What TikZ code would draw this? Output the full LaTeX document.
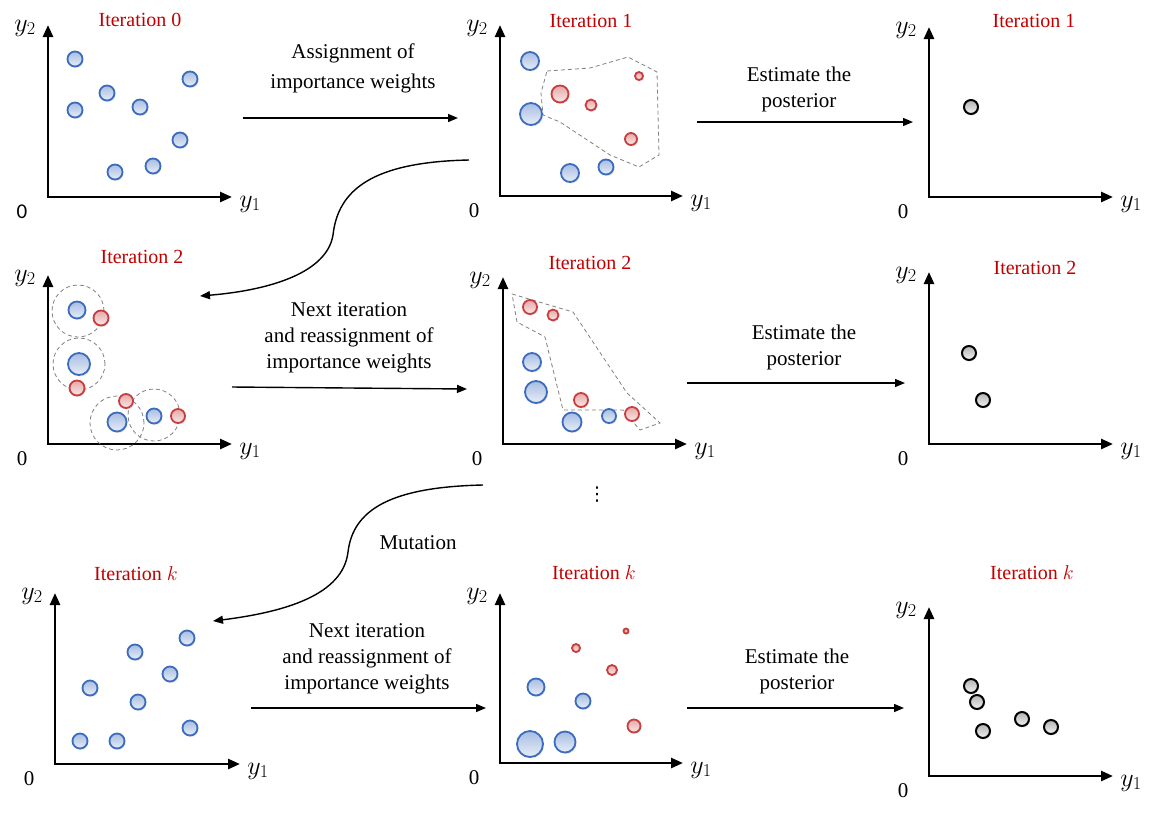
\RequirePackage{fix-cm}
\documentclass[tikz,border=0pt]{standalone}
\usepackage{fontspec}
\setmainfont{Liberation Serif}
\newfontfamily\calibfont{Carlito}
\newfontfamily\dejafont{DejaVu Sans}
\usetikzlibrary{arrows.meta, positioning, shadows}
\definecolor{itred}{RGB}{192,0,0}
\definecolor{ballblue}{RGB}{60,108,190}
\definecolor{ballred}{RGB}{200,62,62}

\begin{document}
\begin{tikzpicture}[x=1pt, y=-1pt,
    axis/.style={line width=2.6pt, {Triangle[length=12pt,width=10pt]}-{Triangle[length=12pt,width=10pt]}},
    conn/.style={-{Triangle[length=10pt,width=8pt]}, line width=1.4pt},
    txt/.style={align=center, font=\fontsize{21}{26}\selectfont},
    iter/.style={text=itred, font=\fontsize{20}{24}\selectfont},
    ax/.style={font=\fontsize{26}{28}\selectfont, inner sep=0pt},
    zero/.style={font=\fontsize{21}{24}\selectfont, inner sep=0pt},
    ball/.style={circle, inner sep=0pt, minimum size=#1pt, line width=1.8pt,
                 drop shadow={opacity=0.2, shadow xshift=1pt, shadow yshift=-1.5pt}},
    bball/.style={ball=#1, draw=ballblue, top color=ballblue!45, bottom color=ballblue!12},
    rball/.style={ball=#1, draw=ballred, top color=ballred!45, bottom color=ballred!12},
    gball/.style={ball=#1, draw=black, line width=2pt, top color=black!30, bottom color=black!5},
    hull/.style={draw=black!50, line width=0.8pt, dash pattern=on 4pt off 3pt}
]
    \useasboundingbox (0,0) rectangle (1162,823);

    % axes of the nine panels
    \foreach \ox/\oy/\ty/\xe [count=\i] in {48/197/25/232, 500/196/25/683, 929/197/27/1113,
        48/444/275/232, 503/444/277/687, 929/444/272/1113,
        55/764/593/240, 500/763/593/683, 929/776/607/1113} {
        \coordinate (o\i) at (\ox,\oy);
        \draw[axis] (\ox,\ty) -- (o\i) -- (\xe,\oy);
        \node[ax] (y2-\i) at (\ox-23,\ty+3) {$y_2$};
        \node[ax] (y1-\i) at (\xe+18,\oy+7) {$y_1$};
        \node[zero] (z-\i) at (\ox-26,\oy+15) {\ifnum\i=1 \calibfont\fi 0};
    }

    % panel titles
    \node[iter] (t1) at (140,20) {Iteration 0};
    \node[iter] (t2) at (591,21) {Iteration 1};
    \node[iter] (t3) at (1034,21) {Iteration 1};
    \node[iter] (t4) at (142,257) {Iteration 2};
    \node[iter] (t5) at (590,263) {Iteration 2};
    \node[iter] (t6) at (1035,268) {Iteration 2};
    \node[iter] (t7) at (136,574) {Iteration $k$};
    \node[iter] (t8) at (594,573) {Iteration $k$};
    \node[iter] (t9) at (1032,573) {Iteration $k$};

    % dashed outlines
    \draw[hull] (547,71) -- (590,68) -- (628,57) -- (657,72) -- (659,155) -- (639,167)
        -- (610,155) -- (560,122) -- (543,115) -- (541,93) -- cycle;
    \draw[hull] (512,294) -- (573,312) -- (627,393) -- (660,423) -- (640,430) -- (623,410)
        -- (563,410) -- (545,337) -- (517,322) -- cycle;
    \foreach \cx/\cy/\cr in {78/311/26, 79/364/26, 117/423/27, 154/415/26}
        \draw[hull] (\cx,\cy) circle[radius=\cr pt];

    % particles, iteration 0
    \foreach \x/\y [count=\i] in {75/59, 75/110, 107/93, 140/107, 190/79, 180/140, 115/172, 153/166}
        \node[bball=15] (p1-\i) at (\x,\y) {};
    % iteration 1
    \foreach \x/\y/\d [count=\i] in {530/61/18, 531/114/22, 570/173/18, 606/167/15}
        \node[bball=\d] (p2b-\i) at (\x,\y) {};
    \foreach \x/\y/\d [count=\i] in {560/94/17, 591/105/11, 639/76/8, 631/139/12}
        \node[rball=\d] (p2r-\i) at (\x,\y) {};
    \node[gball=14] (e1) at (971,107) {};
    % iteration 2
    \foreach \x/\y/\d [count=\i] in {77/310/17, 79/364/22, 117/422/19, 154/416/15}
        \node[bball=\d] (p4b-\i) at (\x,\y) {};
    \foreach \x/\y/\d [count=\i] in {101/318/15, 77/388/15, 126/401/14, 178/416/14}
        \node[rball=\d] (p4r-\i) at (\x,\y) {};
    \foreach \x/\y/\d [count=\i] in {532/362/18, 536/392/22, 572/422/19, 609/416/14}
        \node[bball=\d] (p5b-\i) at (\x,\y) {};
    \foreach \x/\y/\d [count=\i] in {530/307/14, 553/315/11, 581/400/14, 632/414/14}
        \node[rball=\d] (p5r-\i) at (\x,\y) {};
    \node[gball=14] (e2-1) at (969,353) {};
    \node[gball=14] (e2-2) at (983,400) {};
    % iteration k
    \foreach \x/\y [count=\i] in {187/638, 135/652, 170/674, 90/688, 138/702, 190/728, 80/741, 117/741}
        \node[bball=15] (p7-\i) at (\x,\y) {};
    \foreach \x/\y/\d [count=\i] in {530/744/26, 565/742/21, 536/687/17, 583/701/15}
        \node[bball=\d] (p8b-\i) at (\x,\y) {};
    \foreach \x/\y/\d [count=\i] in {576/648/8, 626/631/5, 612/670/10, 634/726/13}
        \node[rball=\d] (p8r-\i) at (\x,\y) {};
    \foreach \x/\y [count=\i] in {971/686, 977/702, 983/731, 1022/719, 1051/727}
        \node[gball=14] (ek-\i) at (\x,\y) {};

    % step labels
    \node[txt] (assign) at (353,68) {Assignment of\\[4pt]importance weights};
    \node[txt] (est1) at (799,89) {Estimate the\\posterior};
    \node[txt] (next1) at (349,338) {Next iteration\\and reassignment of\\importance weights};
    \node[txt] (est2) at (804,347) {Estimate the\\posterior};
    \node[font=\fontsize{19}{20}\dejafont] (dots) at (597,495) {⋮};
    \node[txt] (mut) at (418,543) {Mutation};
    \node[txt] (next2) at (367,659) {Next iteration\\and reassignment of\\importance weights};
    \node[txt] (est3) at (797,671) {Estimate the\\posterior};

    % arrow ends
    \coordinate (a1s) at (243,118);  \coordinate (a1e) at (458,118);
    \coordinate (a2s) at (697,122);  \coordinate (a2e) at (913,122);
    \coordinate (a3s) at (232,387);  \coordinate (a3e) at (467,389);
    \coordinate (a4s) at (687,383);  \coordinate (a4e) at (905,383);
    \coordinate (a5s) at (251,708);  \coordinate (a5e) at (486,708);
    \coordinate (a6s) at (687,708);  \coordinate (a6e) at (904,708);
    \coordinate (c1s) at (469,160);  \coordinate (c1e) at (200,296);
    \coordinate (c2s) at (483,485);  \coordinate (c2e) at (213,621);

    \draw[conn] (a1s) -- (a1e);
    \draw[conn] (a2s) -- (a2e);
    \draw[conn] (a3s) -- (a3e);
    \draw[conn] (a4s) -- (a4e);
    \draw[conn] (a5s) -- (a5e);
    \draw[conn] (a6s) -- (a6e);
    \draw[conn] (c1s) .. controls (372,162) and (338,190) .. (333,235)
        .. controls (327,272) and (272,290) .. (c1e);
    \draw[conn] (c2s) .. controls (390,487) and (353,510) .. (348,552)
        .. controls (343,595) and (285,612) .. (c2e);
\end{tikzpicture}
\end{document}
